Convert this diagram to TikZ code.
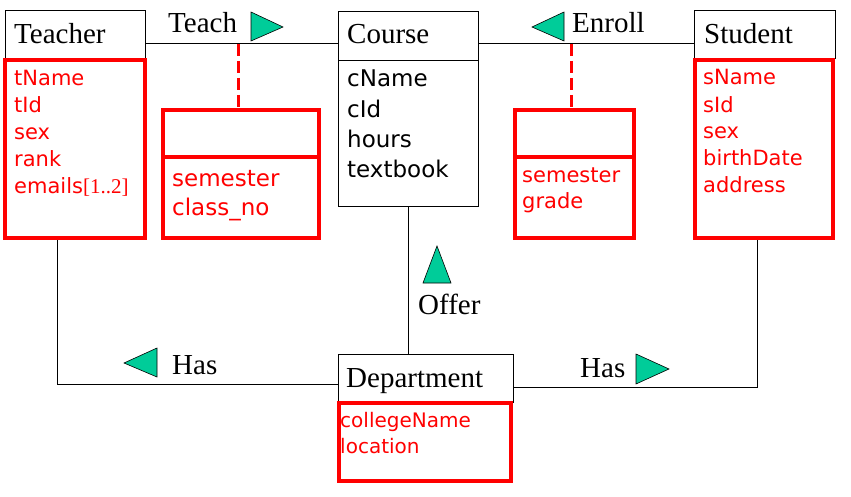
\documentclass[tikz,border=0pt]{standalone}
\usepackage{fontspec}
\setmainfont{Liberation Serif}
\newfontfamily\attrfont{DejaVu Sans}
\definecolor{trigreen}{RGB}{0,204,153}
\begin{document}
\begin{tikzpicture}[x=1pt,y=-1pt,
  tbox/.style={draw=black, line width=1pt, rectangle, inner sep=0pt},
  rbox/.style={draw=red, line width=4pt, rectangle, inner sep=0pt},
  conn/.style={draw=black, line width=1pt},
  reddash/.style={draw=red, line width=3pt, dash pattern=on 12pt off 5pt},
  tri/.style={fill=trigreen, draw=black, line width=0.6pt, line join=miter},
  lbl/.style={anchor=base west, inner sep=0pt, font=\fontsize{29}{31}\selectfont},
  attr/.style={anchor=base west, inner sep=0pt, text=red, font=\attrfont\fontsize{21}{24}\selectfont},
  attrb/.style={attr, font=\attrfont\fontsize{23}{26}\selectfont},
  attrd/.style={attr, font=\attrfont\fontsize{20}{22}\selectfont}]
\useasboundingbox (0,0) rectangle (851,497);
\fill[white] (0,0) rectangle (851,497);

% boxes
\node[tbox, minimum width=140pt, minimum height=48pt] (teacherT) at (75,35) {};
\node[rbox, minimum width=140pt, minimum height=178pt] (teacherA) at (75,149) {};
\node[rbox, minimum width=156pt, minimum height=47pt] (assocTtop) at (241,133.5) {};
\node[rbox, minimum width=156pt, minimum height=81pt] (assocTbot) at (241,197.5) {};
\node[tbox, minimum width=140pt, minimum height=49pt] (courseT) at (408,36.5) {};
\node[tbox, minimum width=140pt, minimum height=146pt] (courseA) at (408,134) {};
\node[rbox, minimum width=119pt, minimum height=47pt] (assocEtop) at (574.5,133.5) {};
\node[rbox, minimum width=119pt, minimum height=81pt] (assocEbot) at (574.5,197.5) {};
\node[tbox, minimum width=141pt, minimum height=48pt] (studentT) at (764.5,35) {};
\node[rbox, minimum width=138pt, minimum height=178pt] (studentA) at (764,149) {};
\node[tbox, minimum width=175pt, minimum height=48pt] (deptT) at (425.5,378) {};
\node[rbox, minimum width=172pt, minimum height=78pt] (deptA) at (425,442) {};

% connectors
\coordinate (teachY) at (0,44);
\draw[conn] (teacherT.east |- teachY) -- (courseT.west |- teachY);
\draw[conn] (courseT.east |- teachY) -- (studentT.west |- teachY);
\draw[reddash] ([xshift=-3pt]assocTtop.north |- teachY) -- ([xshift=-3pt]assocTtop.north);
\draw[reddash] ([xshift=-3pt]assocEtop.north |- teachY) -- ([xshift=-3pt]assocEtop.north);
\draw[conn] (courseA.south) -- (courseA.south |- deptT.north);
\coordinate (hasL) at (57,384);
\draw[conn] (teacherA.south -| hasL) -- (hasL) -- (deptT.west |- hasL);
\coordinate (hasR) at (757,387);
\draw[conn] (deptT.east |- hasR) -- (hasR) -- (studentA.south -| hasR);

% direction triangles
\draw[tri] (251,12) -- (251,41) -- (283,27) -- cycle;
\draw[tri] (564,12) -- (564,41) -- (532,27) -- cycle;
\draw[tri] (437,246) -- (451,283) -- (423,283) -- cycle;
\draw[tri] (157,348) -- (157,377) -- (124,363) -- cycle;
\draw[tri] (636,354) -- (636,384) -- (669,369) -- cycle;

% labels
\node[lbl] (lTeacher) at (14,44) {Teacher};
\node[lbl] (lCourse) at (347,44) {Course};
\node[lbl] (lStudent) at (704,44) {Student};
\node[lbl] (lDept) at (346,387) {Department};
\node[lbl] (lTeach) at (168,33) {Teach};
\node[lbl] (lEnroll) at (572,33) {Enroll};
\node[lbl] (lOffer) at (418,314) {Offer};
\node[lbl] (lHasL) at (172,374) {Has};
\node[lbl] (lHasR) at (580,377) {Has};

% Teacher attributes
\node[attr] (t1) at (14,86) {tName};
\node[attr] (t2) at (14,113) {tId};
\node[attr] (t3) at (14,140) {sex};
\node[attr] (t4) at (14,167) {rank};
\node[attr] (t5) at (14,194) {emails{\rmfamily\fontsize{21}{24}\selectfont[1..2]}};

% Teach association
\node[attrb] (a1) at (172,187) {semester};
\node[attrb] (a2) at (172,215) {class\_no};

% Course attributes
\node[attrb, text=black] (c1) at (347,87) {cName};
\node[attrb, text=black] (c2) at (347,118) {cId};
\node[attrb, text=black] (c3) at (347,148) {hours};
\node[attrb, text=black] (c4) at (347,178) {textbook};

% Enroll association
\node[attr] (e1) at (522,183) {semester};
\node[attr] (e2) at (522,209) {grade};

% Student attributes
\node[attr] (s1) at (703,85) {sName};
\node[attr] (s2) at (703,113) {sId};
\node[attr] (s3) at (703,139) {sex};
\node[attr] (s4) at (703,166) {birthDate};
\node[attr] (s5) at (703,193) {address};

% Department attributes
\node[attrd] (d1) at (340,427) {collegeName};
\node[attrd] (d2) at (340,453) {location};
\end{tikzpicture}
\end{document}
